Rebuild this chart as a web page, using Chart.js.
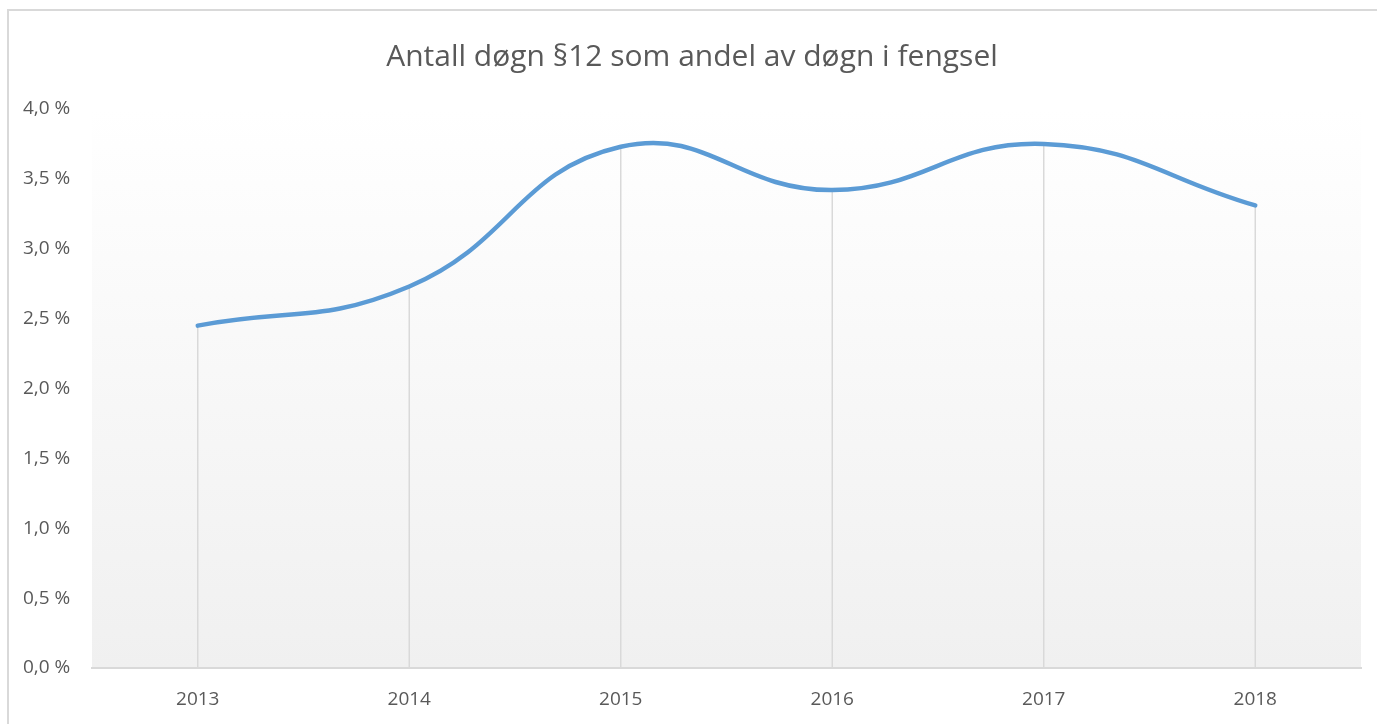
<!DOCTYPE html>
<html>
<head>
<meta charset="utf-8">
<script src="https://cdn.jsdelivr.net/npm/chart.js@4.4.1/dist/chart.umd.min.js"></script>
<style>
  html, body { margin: 0; padding: 0; background: #fff; overflow: hidden; }
  #wrap { position: relative; width: 1377px; height: 724px; }
  #frame { position: absolute; left: 7px; top: 9px; width: 1400px; height: 800px; border: 2px solid #d9d9d9; box-sizing: border-box; }
  canvas { position: absolute; left: 0; top: 0; }
</style>
</head>
<body>
<div id="wrap">
  <div id="frame"></div>
  <canvas id="chart" width="1377" height="724"></canvas>
</div>
<script>
const years = ['2013', '2014', '2015', '2016', '2017', '2018'];
const shareValues = [2.45, 2.73, 3.73, 3.42, 3.75, 3.31];
const chartTitle = 'Antall døgn §12 som andel av døgn i fengsel';

const textColor = '#595959';

// plot area gradient, like the Excel fill
const plotBackground = {
    id: 'plotBackground',
    beforeDraw(chart) {
        const { ctx, chartArea: a } = chart;
        const g = ctx.createLinearGradient(0, a.top, 0, a.bottom);
        g.addColorStop(0, '#ffffff');
        g.addColorStop(1, '#f0f0f0');
        ctx.save();
        ctx.fillStyle = g;
        ctx.fillRect(a.left, a.top, a.right - a.left, a.bottom - a.top);
        ctx.restore();
    }
};

// drop lines from each point down to the axis
const dropLines = {
    id: 'dropLines',
    beforeDatasetsDraw(chart) {
        const { ctx, chartArea: a } = chart;
        const meta = chart.getDatasetMeta(0);
        ctx.save();
        ctx.strokeStyle = '#d9d9d9';
        ctx.lineWidth = 1.5;
        meta.data.forEach(p => {
            ctx.beginPath();
            ctx.moveTo(p.x, p.y);
            ctx.lineTo(p.x, a.bottom);
            ctx.stroke();
        });
        ctx.restore();
    }
};

const ctx = document.getElementById('chart');

const config = {
    type: 'line',
    data: {
        labels: years,
        datasets: [
            {
                label: 'Andel',
                data: shareValues,
                borderColor: '#5b9bd5',
                borderWidth: 4.5,
                borderCapStyle: 'round',
                pointRadius: 0,
                tension: 0.45,
                fill: false
            }
        ]
    },
    options: {
        responsive: false,
        animation: false,
        layout: {
            padding: { left: 23, right: 16, top: 0, bottom: 0 }
        },
        plugins: {
            legend: { display: false },
            tooltip: { enabled: false },
            title: {
                display: true,
                text: chartTitle,
                color: textColor,
                font: { family: 'Open Sans', size: 30, weight: 'normal' },
                padding: { top: 39, bottom: 34 }
            }
        },
        scales: {
            x: {
                offset: true,
                grid: { display: false, drawTicks: false },
                border: { display: true, color: '#d9d9d9', width: 2 },
                ticks: {
                    color: textColor,
                    font: { family: 'Open Sans', size: 19 },
                    padding: 20
                },
                afterFit(scale) { scale.height = 56; }
            },
            y: {
                min: 0,
                max: 4,
                grid: { display: false, drawTicks: false },
                border: { display: false },
                ticks: {
                    stepSize: 0.5,
                    color: textColor,
                    font: { family: 'Open Sans', size: 19 },
                    crossAlign: 'far',
                    padding: 0,
                    callback: v => v.toFixed(1).replace('.', ',') + ' %'
                },
                afterFit(scale) { scale.width = 69; }
            }
        }
    },
    plugins: [plotBackground, dropLines]
};

const lineChart = new Chart(ctx, config);
</script>
</body>
</html>
